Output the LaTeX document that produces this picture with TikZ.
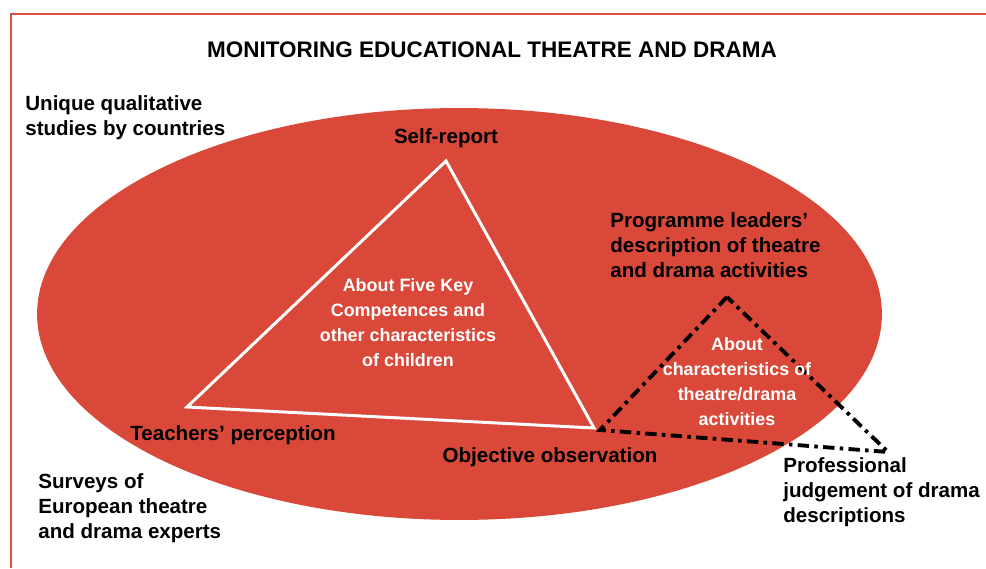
\documentclass[tikz,border=0pt]{standalone}
\usepackage{fontspec}
\setmainfont{Liberation Sans}
\definecolor{ellred}{RGB}{217,72,56}
\definecolor{framered}{RGB}{222,78,66}
\begin{document}
\begin{tikzpicture}[x=0.02cm,y=-0.02cm,
    lbl/.style={font=\fontsize{11.7}{14.2}\selectfont\bfseries,inner sep=0pt,align=left},
    inlbl/.style={font=\fontsize{10.2}{14.2}\selectfont\bfseries,text=white,inner sep=0pt,align=center}]
    \useasboundingbox (0,0) rectangle (986,568);
    \draw[framered,line width=1.4pt] (986,14) -- (11,14) -- (11,568);
    \fill[ellred] (459.5,314) ellipse [x radius=8.45cm,y radius=4.12cm];
    \node[font=\fontsize{12.8}{15}\selectfont\bfseries] (title) at (492,50) {MONITORING EDUCATIONAL THEATRE AND DRAMA};
    \node[lbl,anchor=west] (uq) at (25,118) {Unique qualitative\\studies by countries};
    \node[lbl,anchor=west] (sv) at (38,508) {Surveys of\\European theatre\\and drama experts};
    \coordinate (sr) at (446,161);
    \coordinate (tp) at (187,407);
    \coordinate (oo) at (594,428);
    \coordinate (pl) at (727,297);
    \coordinate (ob) at (600,430);
    \coordinate (pj) at (888,452);
    \draw[white,line width=1.7pt] (sr) -- (tp) -- (oo) -- cycle;
    \draw[black,line width=2.2pt,dash pattern=on 6.5pt off 3pt on 2pt off 3pt] (pl) -- (ob) -- (pj) -- cycle;
    \node[lbl] (srl) at (446,138) {Self-report};
    \node[lbl] (tpl) at (233,435) {Teachers' perception};
    \node[lbl] (obl) at (550,457) {Objective observation};
    \node[lbl,anchor=west] (pll) at (610,245) {Programme leaders'\\description of theatre\\and drama activities};
    \node[lbl,anchor=west] (pjl) at (783,492) {Professional\\judgement of drama\\descriptions};
    \node[inlbl] (kc) at (408,323) {About Five Key\\Competences and\\other characteristics\\of children};
    \node[inlbl] (ta) at (737,382) {About\\characteristics of\\theatre/drama\\activities};
\end{tikzpicture}
\end{document}
